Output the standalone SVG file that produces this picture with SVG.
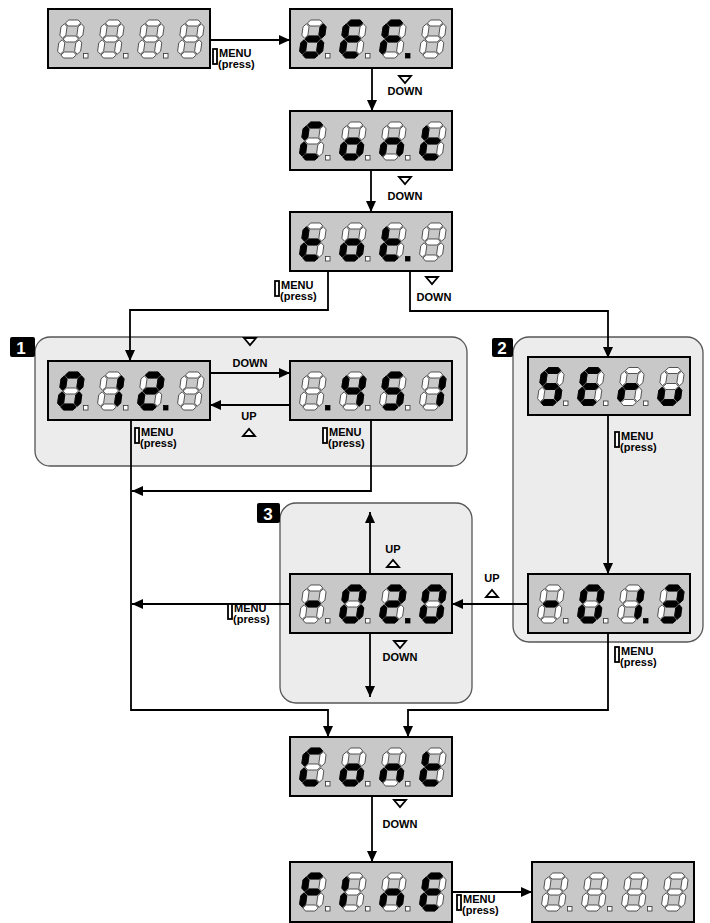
<svg xmlns="http://www.w3.org/2000/svg" xmlns:xlink="http://www.w3.org/1999/xlink" width="710" height="923" viewBox="0 0 710 923">
<style>
.disp{fill:#c8c8c8;stroke:#000;stroke-width:2}
.box{fill:#ececec;stroke:#555;stroke-width:1.3}
.off{fill:#fff;stroke:#333;stroke-width:0.8}
.on{fill:#000;stroke:#000;stroke-width:0.8}
.lbl{font-family:"Liberation Sans",Arial,sans-serif;font-weight:bold;font-size:11px;fill:#000}
.badge{fill:#000}
.btxt{font-family:"Liberation Sans",Arial,sans-serif;font-weight:bold;font-size:17px;fill:#fff;text-anchor:middle}
.btn{fill:#fff;stroke:#000;stroke-width:1.8}
.tri{fill:#fff;stroke:#000;stroke-width:1.8;stroke-linejoin:miter}
.mid{text-anchor:middle}
</style>
<defs>
<marker id="ah" markerUnits="userSpaceOnUse" markerWidth="11" markerHeight="10" refX="11" refY="5" orient="auto">
<path d="M0,0 L11,5 L0,10 z" fill="#000"/>
</marker>
<polygon id="sa" points="3.8,3 6.8,0 16.2,0 19.2,3 16.2,6 6.8,6"/>
<polygon id="sg" points="3.8,19 6.8,16 16.2,16 19.2,19 16.2,22 6.8,22"/>
<polygon id="sd" points="3.8,35 6.8,32 16.2,32 19.2,35 16.2,38 6.8,38"/>
<polygon id="sf" points="3,3.8 6,6.8 6,15.2 3,18.2 0,15.2 0,6.8"/>
<polygon id="sb" points="20,3.8 23,6.8 23,15.2 20,18.2 17,15.2 17,6.8"/>
<polygon id="se" points="3,19.8 6,22.8 6,31.2 3,34.2 0,31.2 0,22.8"/>
<polygon id="sc" points="20,19.8 23,22.8 23,31.2 20,34.2 17,31.2 17,22.8"/>
<g id="d8" class="off"><use href="#sa"/><use href="#sb"/><use href="#sc"/><use href="#sd"/><use href="#se"/><use href="#sf"/><use href="#sg"/></g>
<g id="c_blank" transform="skewX(-8)"><use href="#d8"/></g>
<g id="c_d" transform="skewX(-8)"><use href="#d8"/><use href="#sb" class="on"/><use href="#sc" class="on"/><use href="#sd" class="on"/><use href="#se" class="on"/><use href="#sg" class="on"/></g>
<g id="c_E" transform="skewX(-8)"><use href="#d8"/><use href="#sa" class="on"/><use href="#sd" class="on"/><use href="#se" class="on"/><use href="#sf" class="on"/><use href="#sg" class="on"/></g>
<g id="c_F" transform="skewX(-8)"><use href="#d8"/><use href="#sa" class="on"/><use href="#se" class="on"/><use href="#sf" class="on"/><use href="#sg" class="on"/></g>
<g id="c_C" transform="skewX(-8)"><use href="#d8"/><use href="#sa" class="on"/><use href="#sd" class="on"/><use href="#se" class="on"/><use href="#sf" class="on"/></g>
<g id="c_o" transform="skewX(-8)"><use href="#d8"/><use href="#sc" class="on"/><use href="#sd" class="on"/><use href="#se" class="on"/><use href="#sg" class="on"/></g>
<g id="c_n" transform="skewX(-8)"><use href="#d8"/><use href="#sc" class="on"/><use href="#se" class="on"/><use href="#sg" class="on"/></g>
<g id="c_t" transform="skewX(-8)"><use href="#d8"/><use href="#sd" class="on"/><use href="#se" class="on"/><use href="#sf" class="on"/><use href="#sg" class="on"/></g>
<g id="c_0" transform="skewX(-8)"><use href="#d8"/><use href="#sa" class="on"/><use href="#sb" class="on"/><use href="#sc" class="on"/><use href="#sd" class="on"/><use href="#se" class="on"/><use href="#sf" class="on"/></g>
<g id="c_1" transform="skewX(-8)"><use href="#d8"/><use href="#sb" class="on"/><use href="#sc" class="on"/></g>
<g id="c_2" transform="skewX(-8)"><use href="#d8"/><use href="#sa" class="on"/><use href="#sb" class="on"/><use href="#sg" class="on"/><use href="#se" class="on"/><use href="#sd" class="on"/></g>
<g id="c_3" transform="skewX(-8)"><use href="#d8"/><use href="#sa" class="on"/><use href="#sb" class="on"/><use href="#sg" class="on"/><use href="#sc" class="on"/><use href="#sd" class="on"/></g>
<g id="c_4" transform="skewX(-8)"><use href="#d8"/><use href="#sf" class="on"/><use href="#sg" class="on"/><use href="#sb" class="on"/><use href="#sc" class="on"/></g>
<g id="c_5" transform="skewX(-8)"><use href="#d8"/><use href="#sa" class="on"/><use href="#sf" class="on"/><use href="#sg" class="on"/><use href="#sc" class="on"/><use href="#sd" class="on"/></g>
<g id="c_r" transform="skewX(-8)"><use href="#d8"/><use href="#se" class="on"/><use href="#sg" class="on"/></g>
<g id="c_u" transform="skewX(-8)"><use href="#d8"/><use href="#sc" class="on"/><use href="#sd" class="on"/><use href="#se" class="on"/></g>
<g id="c_dash" transform="skewX(-8)"><use href="#d8"/><use href="#sg" class="on"/></g>
<g id="c_I" transform="skewX(-8)"><use href="#d8"/><use href="#se" class="on"/><use href="#sf" class="on"/></g>
<rect id="dot" width="4.5" height="4.5"/>
</defs>

<rect width="710" height="923" fill="#fff"/>

<!-- group boxes -->
<g id="group1">
<rect class="box" x="35" y="337" width="432" height="129" rx="15"/>
<rect class="badge" x="10" y="337" width="25" height="20" rx="2"/>
<text class="btxt" x="21" y="354">1</text>
</g>
<g id="group2">
<rect class="box" x="513" y="337" width="190" height="305" rx="16"/>
<rect class="badge" x="492" y="338" width="21" height="19" rx="2"/>
<text class="btxt" x="502" y="354">2</text>
</g>
<g id="group3">
<rect class="box" x="280" y="503" width="192" height="200" rx="16"/>
<rect class="badge" x="257" y="503" width="23" height="20" rx="2"/>
<text class="btxt" x="268" y="520">3</text>
</g>

<!-- connectors -->
<g id="connectors" fill="none" stroke="#000" stroke-width="1.8">
<path d="M210,40 H290" marker-end="url(#ah)"/>
<path d="M372,68 V111" marker-end="url(#ah)"/>
<path d="M371,170 V212" marker-end="url(#ah)"/>
<path d="M328,271 V310 H130 V361" marker-end="url(#ah)"/>
<path d="M410,271 V311 H608 V358" marker-end="url(#ah)"/>
<path d="M210,373 H290" marker-end="url(#ah)"/>
<path d="M290,405 H210" marker-end="url(#ah)"/>
<path d="M131,420 V710 H328 V737" marker-end="url(#ah)"/>
<path d="M371,420 V491 H132" marker-end="url(#ah)"/>
<path d="M370,574 V512" marker-end="url(#ah)"/>
<path d="M370,633 V697" marker-end="url(#ah)"/>
<path d="M290,604 H132" marker-end="url(#ah)"/>
<path d="M608,415 V574" marker-end="url(#ah)"/>
<path d="M528,604 H452" marker-end="url(#ah)"/>
<path d="M608,633 V710 H408 V737" marker-end="url(#ah)"/>
<path d="M372,797 V862" marker-end="url(#ah)"/>
<path d="M452,892 H532" marker-end="url(#ah)"/>
</g>

<!-- labels -->
<g id="labels">
<g id="lbl-menu-a"><rect class="btn" x="213" y="49" width="4" height="15"/><text class="lbl" x="219" y="57">MENU</text><text class="lbl" x="218" y="68">(press)</text></g>
<g id="lbl-menu-tot"><rect class="btn" x="275" y="281" width="4" height="15"/><text class="lbl" x="281" y="289">MENU</text><text class="lbl" x="280" y="300">(press)</text></g>
<g id="lbl-menu-g1a"><rect class="btn" x="135" y="428" width="4" height="15"/><text class="lbl" x="141" y="436">MENU</text><text class="lbl" x="140" y="447">(press)</text></g>
<g id="lbl-menu-g1b"><rect class="btn" x="323" y="428" width="4" height="15"/><text class="lbl" x="329" y="436">MENU</text><text class="lbl" x="328" y="447">(press)</text></g>
<g id="lbl-menu-serv"><rect class="btn" x="615" y="432" width="4" height="15"/><text class="lbl" x="621" y="440">MENU</text><text class="lbl" x="620" y="451">(press)</text></g>
<g id="lbl-menu-013"><rect class="btn" x="615" y="647" width="4" height="15"/><text class="lbl" x="621" y="655">MENU</text><text class="lbl" x="620" y="666">(press)</text></g>
<g id="lbl-menu-g3"><rect class="btn" x="228" y="604" width="4" height="15"/><text class="lbl" x="234" y="612">MENU</text><text class="lbl" x="233" y="623">(press)</text></g>
<g id="lbl-menu-fine"><rect class="btn" x="457" y="895" width="4" height="15"/><text class="lbl" x="463" y="903">MENU</text><text class="lbl" x="462" y="914">(press)</text></g>

<g id="lbl-down-1"><polygon class="tri" points="399,76 411,76 405,83"/><text class="lbl mid" x="405" y="95">DOWN</text></g>
<g id="lbl-down-2"><polygon class="tri" points="399,177 411,177 405,184"/><text class="lbl mid" x="405" y="200">DOWN</text></g>
<g id="lbl-down-3"><polygon class="tri" points="426,277 438,277 432,284"/><text class="lbl mid" x="434" y="301">DOWN</text></g>
<g id="lbl-down-g1"><polygon class="tri" points="244,338 256,338 250,345"/><text class="lbl mid" x="250" y="367">DOWN</text></g>
<g id="lbl-up-g1"><text class="lbl mid" x="249" y="420">UP</text><polygon class="tri" points="243,436 255,436 249,429"/></g>
<g id="lbl-up-g3"><text class="lbl mid" x="393" y="553">UP</text><polygon class="tri" points="387,567 399,567 393,560"/></g>
<g id="lbl-down-g3"><polygon class="tri" points="394,641 406,641 400,648"/><text class="lbl mid" x="400" y="661">DOWN</text></g>
<g id="lbl-up-g2"><text class="lbl mid" x="492" y="582">UP</text><polygon class="tri" points="486,597 498,597 492,590"/></g>
<g id="lbl-down-4"><polygon class="tri" points="394,800 406,800 400,807"/><text class="lbl mid" x="400" y="828">DOWN</text></g>
</g>

<!-- displays -->
<g id="n-start" transform="translate(48,9)">
<rect class="disp" width="162" height="59"/>
<use href="#c_blank" x="14" y="11"/><use href="#c_blank" x="54" y="11"/><use href="#c_blank" x="94" y="11"/><use href="#c_blank" x="134" y="11"/>
<use href="#dot" class="off" x="35.5" y="44.5"/><use href="#dot" class="off" x="75.5" y="44.5"/><use href="#dot" class="off" x="115.5" y="44.5"/>
</g>
<g id="n-def" transform="translate(290,9)">
<rect class="disp" width="162" height="59"/>
<use href="#c_d" x="14" y="11"/><use href="#c_E" x="54" y="11"/><use href="#c_F" x="94" y="11"/><use href="#c_blank" x="134" y="11"/>
<use href="#dot" class="off" x="35.5" y="44.5"/><use href="#dot" class="off" x="75.5" y="44.5"/><use href="#dot" class="on" x="115.5" y="44.5"/>
</g>
<g id="n-cont1" transform="translate(290,111)">
<rect class="disp" width="162" height="59"/>
<use href="#c_C" x="14" y="11"/><use href="#c_o" x="54" y="11"/><use href="#c_n" x="94" y="11"/><use href="#c_t" x="134" y="11"/>
<use href="#dot" class="off" x="35.5" y="44.5"/><use href="#dot" class="off" x="75.5" y="44.5"/><use href="#dot" class="off" x="115.5" y="44.5"/>
</g>
<g id="n-tot" transform="translate(290,212)">
<rect class="disp" width="162" height="59"/>
<use href="#c_t" x="14" y="11"/><use href="#c_o" x="54" y="11"/><use href="#c_t" x="94" y="11"/><use href="#c_blank" x="134" y="11"/>
<use href="#dot" class="off" x="35.5" y="44.5"/><use href="#dot" class="off" x="75.5" y="44.5"/><use href="#dot" class="on" x="115.5" y="44.5"/>
</g>
<g id="n-012" transform="translate(48,361)">
<rect class="disp" width="162" height="59"/>
<use href="#c_0" x="14" y="11"/><use href="#c_1" x="54" y="11"/><use href="#c_2" x="94" y="11"/><use href="#c_blank" x="134" y="11"/>
<use href="#dot" class="off" x="35.5" y="44.5"/><use href="#dot" class="off" x="75.5" y="44.5"/><use href="#dot" class="on" x="115.5" y="44.5"/>
</g>
<g id="n-451" transform="translate(290,361)">
<rect class="disp" width="162" height="59"/>
<use href="#c_blank" x="14" y="11"/><use href="#c_4" x="54" y="11"/><use href="#c_5" x="94" y="11"/><use href="#c_1" x="134" y="11"/>
<use href="#dot" class="on" x="35.5" y="44.5"/><use href="#dot" class="off" x="75.5" y="44.5"/><use href="#dot" class="off" x="115.5" y="44.5"/>
</g>
<g id="n-serv" transform="translate(528,357)">
<rect class="disp" width="162" height="58"/>
<use href="#c_5" x="14" y="10.5"/><use href="#c_E" x="54" y="10.5"/><use href="#c_r" x="94" y="10.5"/><use href="#c_u" x="134" y="10.5"/>
<use href="#dot" class="off" x="35.5" y="44"/><use href="#dot" class="off" x="75.5" y="44"/><use href="#dot" class="off" x="115.5" y="44"/>
</g>
<g id="n-013" transform="translate(528,574)">
<rect class="disp" width="162" height="59"/>
<use href="#c_dash" x="14" y="11"/><use href="#c_0" x="54" y="11"/><use href="#c_1" x="94" y="11"/><use href="#c_3" x="134" y="11"/>
<use href="#dot" class="off" x="35.5" y="44.5"/><use href="#dot" class="off" x="75.5" y="44.5"/><use href="#dot" class="on" x="115.5" y="44.5"/>
</g>
<g id="n-020" transform="translate(290,574)">
<rect class="disp" width="162" height="59"/>
<use href="#c_dash" x="14" y="11"/><use href="#c_0" x="54" y="11"/><use href="#c_2" x="94" y="11"/><use href="#c_0" x="134" y="11"/>
<use href="#dot" class="off" x="35.5" y="44.5"/><use href="#dot" class="off" x="75.5" y="44.5"/><use href="#dot" class="on" x="115.5" y="44.5"/>
</g>
<g id="n-cont2" transform="translate(290,737)">
<rect class="disp" width="162" height="59"/>
<use href="#c_C" x="14" y="11"/><use href="#c_o" x="54" y="11"/><use href="#c_n" x="94" y="11"/><use href="#c_t" x="134" y="11"/>
<use href="#dot" class="off" x="35.5" y="44.5"/><use href="#dot" class="off" x="75.5" y="44.5"/><use href="#dot" class="off" x="115.5" y="44.5"/>
</g>
<g id="n-fine" transform="translate(290,862)">
<rect class="disp" width="162" height="60"/>
<use href="#c_F" x="14" y="11"/><use href="#c_I" x="54" y="11"/><use href="#c_n" x="94" y="11"/><use href="#c_E" x="134" y="11"/>
<use href="#dot" class="off" x="35.5" y="44.5"/><use href="#dot" class="off" x="75.5" y="44.5"/><use href="#dot" class="off" x="115.5" y="44.5"/>
</g>
<g id="n-end" transform="translate(532,862)">
<rect class="disp" width="162" height="60"/>
<use href="#c_blank" x="14" y="11"/><use href="#c_blank" x="54" y="11"/><use href="#c_blank" x="94" y="11"/><use href="#c_blank" x="134" y="11"/>
<use href="#dot" class="off" x="35.5" y="44.5"/><use href="#dot" class="off" x="75.5" y="44.5"/><use href="#dot" class="off" x="115.5" y="44.5"/>
</g>
</svg>
